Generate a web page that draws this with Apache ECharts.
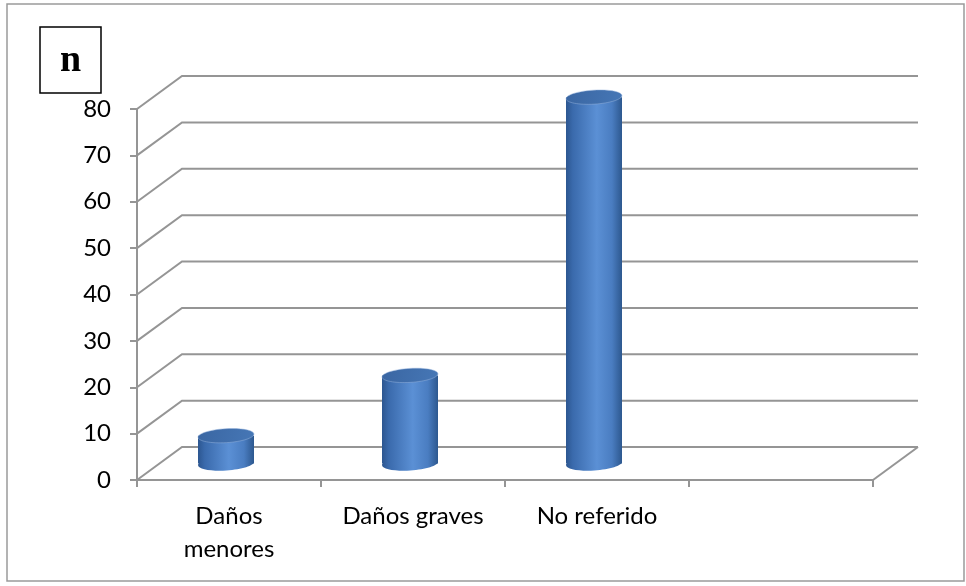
<!DOCTYPE html>
<html>
<head>
<meta charset="utf-8">
<style>
  html, body { margin: 0; padding: 0; background: #ffffff; }
  #chart { width: 966px; height: 586px; }
</style>
<script src="https://cdn.jsdelivr.net/npm/echarts@6/dist/echarts.min.js"></script>
</head>
<body>
<div id="chart"></div>
<script>
// Categories along the floor; the last slot is intentionally empty.
const categories = ['Daños\nmenores', 'Daños graves', 'No referido', ''];
// Count (n) for each category.
const counts = [6, 19, 79];
// Value axis range and step.
const yMin = 0;
const yMax = 80;
const yStep = 10;
const yTickValues = [0, 10, 20, 30, 40, 50, 60, 70, 80];

// Oblique depth of the 3D box (pixels) and cylinder geometry.
const DEPTH_X = 45;
const DEPTH_Y = -33;
const CYL_HALF_W = 28;
const CYL_RY = 7;
const CYL_SHIFT_X = -3;
const CYL_TILT = 0.06;

const LINE_GRAY = '#959595';
const FONT = 'Lato, "Open Sans", sans-serif';

const chart = echarts.init(document.getElementById('chart'), null, { renderer: 'canvas' });

// Back wall and left side wall lines drawn from the value axis scale.
function renderWalls(params, api) {
  const cs = params.coordSys;
  const left = cs.x;
  const right = cs.x + cs.width;
  const v = api.value(0);
  const y = api.coord([0, v])[1];
  const children = [{
    type: 'polyline',
    shape: { points: [[left, y], [left + DEPTH_X, y + DEPTH_Y], [right + DEPTH_X, y + DEPTH_Y]] },
    style: { stroke: LINE_GRAY, lineWidth: 2, fill: null }
  }];
  if (v === yMin) {
    children.push({
      type: 'line',
      shape: { x1: right, y1: y, x2: right + DEPTH_X, y2: y + DEPTH_Y },
      style: { stroke: LINE_GRAY, lineWidth: 2 }
    });
  }
  return { type: 'group', children: children };
}

const bodyGradient = () => new echarts.graphic.LinearGradient(0, 0, 1, 0, [
  { offset: 0, color: '#2c5690' },
  { offset: 0.12, color: '#3a6aac' },
  { offset: 0.55, color: '#5b90d5' },
  { offset: 0.82, color: '#4a7dc1' },
  { offset: 1, color: '#2d588f' }
]);

// Cylinders standing at mid depth of the floor.
function renderCylinder(params, api) {
  const idx = api.value(0);
  const val = api.value(1);
  const base = api.coord([idx, yMin]);
  const top = api.coord([idx, val]);
  const cx = base[0] + CYL_SHIFT_X;
  const yb = base[1] + DEPTH_Y / 2;
  const yt = top[1] + DEPTH_Y / 2;
  return {
    type: 'group',
    children: [
      {
        type: 'ellipse',
        x: cx, y: yb, rotation: CYL_TILT,
        shape: { cx: 0, cy: 0, rx: CYL_HALF_W, ry: CYL_RY },
        style: { fill: bodyGradient() }
      },
      {
        type: 'rect',
        shape: { x: cx - CYL_HALF_W, y: yt, width: CYL_HALF_W * 2, height: yb - yt },
        style: { fill: bodyGradient() }
      },
      {
        type: 'ellipse',
        x: cx, y: yt, rotation: CYL_TILT,
        shape: { cx: 0, cy: 0, rx: CYL_HALF_W, ry: CYL_RY },
        style: {
          fill: new echarts.graphic.LinearGradient(0, 0, 1, 1, [
            { offset: 0, color: '#3a66a2' },
            { offset: 1, color: '#4677b6' }
          ]),
          stroke: 'rgba(150,180,220,0.6)', lineWidth: 0.8
        }
      }
    ]
  };
}

const option = {
  backgroundColor: '#ffffff',
  animation: false,
  grid: { left: 137, right: 93, top: 109, bottom: 106 },
  xAxis: {
    type: 'category',
    data: categories,
    axisLine: { show: true, lineStyle: { color: LINE_GRAY, width: 2 } },
    axisTick: { show: true, length: 7, lineStyle: { color: LINE_GRAY, width: 2 } },
    axisLabel: {
      color: '#000', fontFamily: FONT, fontSize: 24, margin: 20, lineHeight: 33,
      interval: 0
    },
    splitLine: { show: false }
  },
  yAxis: {
    type: 'value',
    min: yMin, max: yMax, interval: yStep,
    axisLine: { show: true, lineStyle: { color: LINE_GRAY, width: 2 } },
    axisTick: { show: true, length: 7, lineStyle: { color: LINE_GRAY, width: 2 } },
    axisLabel: { color: '#000', fontFamily: FONT, fontSize: 24, margin: 26 },
    splitLine: { show: false }
  },
  graphic: [
    {
      type: 'rect', z: -10,
      shape: { x: 7, y: 4, width: 957, height: 577 },
      style: { fill: null, stroke: '#9a9a9a', lineWidth: 1.5 }
    },
    {
      type: 'rect',
      shape: { x: 40, y: 27, width: 61, height: 66 },
      style: { fill: '#fff', stroke: '#000', lineWidth: 1.5 }
    },
    {
      type: 'text',
      x: 70.5, y: 61,
      style: {
        text: 'n', fill: '#000',
        font: 'bold 38px "Liberation Serif", "DejaVu Serif", serif',
        align: 'center', verticalAlign: 'middle'
      }
    }
  ],
  series: [
    {
      type: 'custom',
      name: 'walls',
      renderItem: renderWalls,
      data: yTickValues.map(v => [v]),
      encode: { y: 0 },
      silent: true,
      z: 1
    },
    {
      type: 'custom',
      name: 'n',
      renderItem: renderCylinder,
      data: counts.map((v, i) => [i, v]),
      encode: { x: 0, y: 1 },
      z: 3
    }
  ]
};

chart.setOption(option);
</script>
</body>
</html>
